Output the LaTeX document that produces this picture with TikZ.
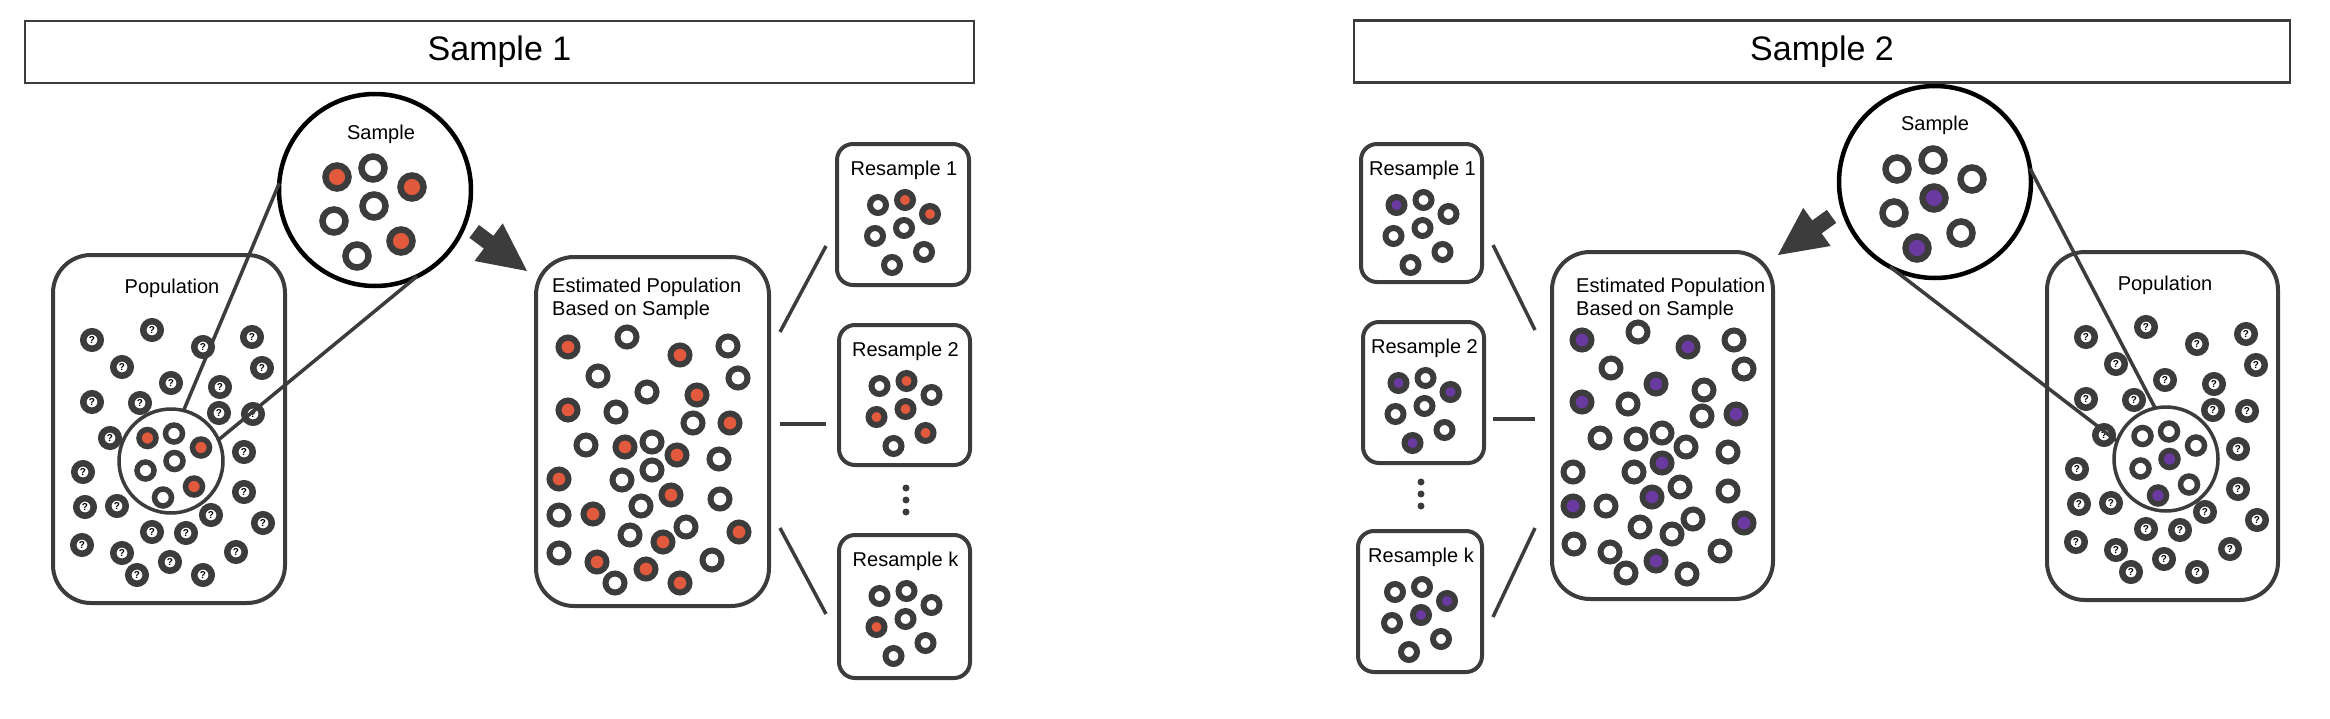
\documentclass[tikz,border=0pt]{standalone}
\usepackage{fontspec}
\setmainfont{Liberation Sans}
\usetikzlibrary{calc}
\definecolor{dk}{RGB}{60,60,60}
\definecolor{rd}{RGB}{226,90,62}
\definecolor{pu}{RGB}{106,58,160}
\definecolor{wh}{RGB}{255,255,255}
\tikzset{
  titlebox/.style={draw=dk, line width=2.5pt, inner sep=0pt, font=\fontsize{34}{40}\selectfont},
  box/.style={draw=dk, line width=4pt, rounded corners=38pt, inner sep=0pt, outer sep=0pt},
  rsbox/.style={draw=dk, line width=4pt, rounded corners=16pt, inner sep=0pt, outer sep=0pt},
  bigcirc/.style={circle, draw=black, line width=4.5pt, fill=white, minimum size=192pt, inner sep=0pt, outer sep=0pt},
  zoomcirc/.style={circle, draw=dk, line width=3.5pt, fill=white, minimum size=104pt, inner sep=0pt, outer sep=0pt},
  link/.style={draw=dk, line width=3.5pt},
  txt/.style={font=\fontsize{20}{23}\selectfont, inner sep=0pt},
  ring/.style={draw=dk, fill=#1},
  qring/.style={draw=dk, line width=6.5pt, fill=white},
  qmark/.style={font=\fontsize{10}{10}\selectfont\bfseries, inner sep=0pt},
}
\newcommand\popdots{39/85,99/75,150/92,199/82,69/112,209/113,118/128,167/132,39/147,87/148,166/158,200/159,57/183,191/197,30/217,191/237,32/252,64/251,210/268,158/260,99/277,133/278,29/290,69/298,117/307,183/297,84/320,150/320}
\newcommand\rsdots[8]{\foreach \dx/\dy/\c in {-25/61/#2,2/56/#3,27/70/#4,-28/92/#5,1/84/#6,21/108/#7,-11/121/#8}
    \draw[ring=\c, line width=6pt] ($(#1.north)+(\dx,-\dy)$) circle (8);}
\begin{document}
\begin{tikzpicture}[x=1pt,y=1pt]
\useasboundingbox (0,0) rectangle (2330,-718);
\node[titlebox, minimum width=949pt, minimum height=62pt] (titleL) at (499.5,-52) {Sample 1};
\node[titlebox, minimum width=936pt, minimum height=62pt] (titleR) at (1822,-51.5) {Sample 2};

\node[box, minimum width=232pt, minimum height=348pt] (popL) at (169,-429) {};
\node[box, minimum width=231pt, minimum height=348pt] (popR) at (2162.5,-426) {};
\node[txt] (popLtxt) at (172,-288) {Population};
\node[txt] (popRtxt) at (2165,-285) {Population};
\foreach \ox/\oy/\s in {53/255/L,2047/252/R}
  \foreach \x/\y [count=\i] in \popdots {
    \draw[qring] (\ox+\x,-\oy-\y) circle (8.75);
    \node[qmark] (q\s\i) at (\ox+\x,-\oy-\y) {?};
  }

\node[zoomcirc] (zoomL) at (171,-461) {};
\node[zoomcirc] (zoomR) at (2166,-459) {};
\foreach \dx/\dy/\c in {-23.5/23/rd,3/27.5/wh,30/13.5/rd,3.5/0/wh,-25.5/-9.5/wh,23/-25.5/rd,-8/-36.5/wh}
  \draw[ring=\c, line width=5.5pt] ($(zoomL)+(\dx,\dy)$) circle (8.5);
\foreach \dx/\dy/\c in {-23.5/23/wh,3/27.5/wh,30/13.5/wh,3.5/0/pu,-25.5/-9.5/wh,23/-25.5/wh,-8/-36.5/pu}
  \draw[ring=\c, line width=5.5pt] ($(zoomR)+(\dx,\dy)$) circle (8.5);

\node[bigcirc] (sampL) at (375,-190) {};
\node[bigcirc] (sampR) at (1935,-182) {};
\node[txt] (sampLtxt) at (381,-134) {Sample};
\node[txt] (sampRtxt) at (1935,-125.5) {Sample};
\foreach \dx/\dy/\c in {-38/13/rd,-2/22/wh,37/3/rd,-1/-16/wh,-41/-31/wh,26/-51/rd,-18/-66/wh}
  \draw[ring=\c, line width=6.5pt] ($(sampL)+(\dx,\dy)$) circle (11.5);
\foreach \dx/\dy/\c in {-38/13/wh,-2/22/wh,37/3/wh,-1/-16/pu,-41/-31/wh,26/-51/wh,-18/-66/pu}
  \draw[ring=\c, line width=6.5pt] ($(sampR)+(\dx,\dy)$) circle (11.5);

\draw[link] (zoomL.76) -- (sampL.176);
\draw[link] (zoomL.24) -- (sampL.-64);
\draw[link] (zoomR.102) -- (sampR.8);
\draw[link] (zoomR.160) -- (sampR.242);

\fill[dk, shift={(527,-271)}, rotate=-36.9] (0,0) -- (-48,23.5) -- (-48,8) -- (-66,8) -- (-66,-8) -- (-48,-8) -- (-48,-23.5) -- cycle;
\fill[dk, shift={(1778,-255)}, rotate=215.8] (0,0) -- (-48,23.5) -- (-48,8) -- (-66,8) -- (-66,-8) -- (-48,-8) -- (-48,-23.5) -- cycle;

\node[box, minimum width=233pt, minimum height=349pt] (estL) at (652.5,-431.5) {};
\node[box, minimum width=221pt, minimum height=347pt] (estR) at (1662.5,-425.5) {};
\node[txt, align=left, anchor=north west] (estLtxt) at (552,-278) {Estimated Population\\Based on Sample};
\node[txt, align=left, anchor=north west] (estRtxt) at (1576,-278) {Estimated Population\\Based on Sample};
\foreach \x/\y/\c in {568/347/rd,627/337/wh,680/355/rd,728/346/wh,598/376/wh,738/378/wh,647/392/wh,697/395/rd,
  568/410/rd,616/412/wh,693/423/wh,730/423/rd,586/445/wh,625/447/rd,652/442/wh,677/455/rd,719/459/wh,559/479/rd,
  622/480/wh,652/470/wh,671/495/rd,720/499/wh,559/515/wh,593/514/rd,641/506/wh,630/535/wh,663/542/rd,686/527/wh,
  739/532/rd,559/553/wh,597/562/rd,646/569/rd,712/560/wh,615/583/wh,680/583/rd}
  \draw[ring=\c, line width=6pt] (\x,-\y) circle (9.5);
\foreach \x/\y/\c in {1582/340/pu,1638/332/wh,1688/347/pu,1734/340/wh,1611/368/wh,1744/369/wh,1656/384/pu,1704/390/wh,
  1582/402/pu,1628/404/wh,1702/416/wh,1736/414/pu,1600/438/wh,1636/439/wh,1662/433/wh,1686/447/wh,1728/452/wh,
  1573/472/wh,1634/472/wh,1662/463/pu,1680/487/wh,1728/491/wh,1573/506/pu,1606/506/wh,1652/497/pu,1640/527/wh,
  1672/534/wh,1693/519/wh,1744/523/pu,1574/544/wh,1610/552/wh,1656/561/pu,1720/551/wh,1626/573/wh,1687/574/wh}
  \draw[ring=\c, line width=6pt] (\x,-\y) circle (9.5);

\foreach \n/\cx/\cy/\w/\h/\t in {rs1L/903/214.5/132/141/1,rs2L/904.5/395/131/140/2,rskL/904.5/606.5/131/143/k,
  rs1R/1421.5/213/121/138/1,rs2R/1423.5/392.5/121/141/2,rskR/1420/601.5/124/141/k} {
  \node[rsbox, minimum width=\w pt, minimum height=\h pt] (\n) at (\cx,-\cy) {};
  \node[txt] (\n txt) at ($(\n.north)+(1,-26)$) {Resample \t};
}
\rsdots{rs1L}{wh}{rd}{rd}{wh}{wh}{wh}{wh}
\rsdots{rs2L}{wh}{rd}{wh}{rd}{rd}{rd}{wh}
\rsdots{rskL}{wh}{wh}{wh}{rd}{wh}{wh}{wh}
\rsdots{rs1R}{pu}{wh}{wh}{wh}{wh}{wh}{wh}
\rsdots{rs2R}{pu}{wh}{pu}{wh}{wh}{wh}{pu}
\rsdots{rskR}{wh}{wh}{pu}{wh}{pu}{wh}{wh}

\foreach \y in {488,500,512} \fill[dk] (906,-\y) circle (3.5);
\foreach \y in {482,494,506} \fill[dk] (1421,-\y) circle (3.5);

\coordinate (eL1) at (780,-332); \coordinate (rL1) at (826,-246);
\coordinate (eL2) at (780,-424); \coordinate (rL2) at (826,-424);
\coordinate (eL3) at (780,-528); \coordinate (rL3) at (826,-614);
\coordinate (eR1) at (1535,-330); \coordinate (rR1) at (1493,-245);
\coordinate (eR2) at (1535,-419); \coordinate (rR2) at (1493,-419);
\coordinate (eR3) at (1535,-528); \coordinate (rR3) at (1493,-617);
\foreach \a/\b in {eL1/rL1,eL2/rL2,eL3/rL3,eR1/rR1,eR2/rR2,eR3/rR3}
  \draw[link] (\a) -- (\b);
\end{tikzpicture}
\end{document}
